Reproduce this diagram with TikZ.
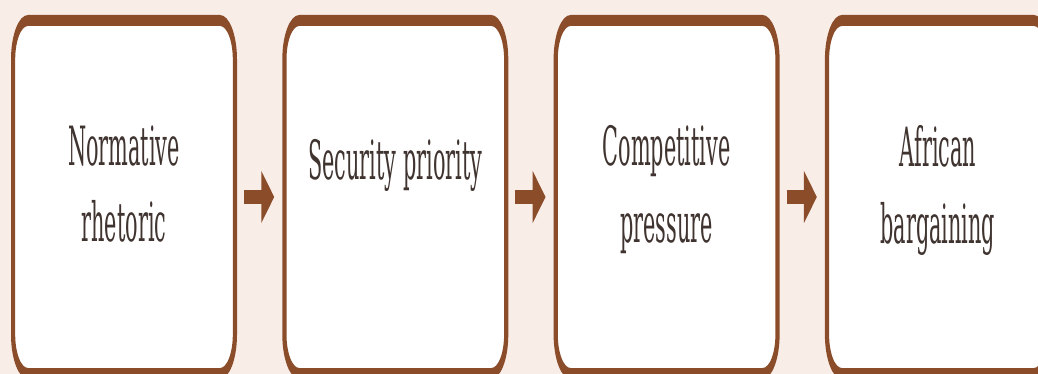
\documentclass[tikz,border=0pt]{standalone}
\usepackage{fontspec}
\setmainfont{DejaVu Serif}
\usetikzlibrary{arrows.meta}
\definecolor{bgpink}{RGB}{249,237,232}
\definecolor{rust}{RGB}{139,76,42}
\definecolor{ink}{RGB}{64,52,48}
\tikzset{
stage/.style={draw=rust,line width=4.2pt,fill=white,rounded corners=15pt,minimum width=221.8pt,minimum height=135.8pt,inner sep=0pt},
caption/.style={text=ink,font=\fontsize{20.8}{29.4}\selectfont,align=center,anchor=north,inner sep=0pt,execute at begin node=\strut},
push/.style={draw=rust,line width=5.4pt,-{Triangle[length=13pt,width=19.2pt]},shorten <=7pt,shorten >=8pt}
}
\begin{document}
\begin{tikzpicture}
\fill[bgpink](0,0)rectangle(1038pt,374pt);
\useasboundingbox(0,0)rectangle(1038pt,374pt);
\clip(0,0)rectangle(1038pt,374pt);
\begin{scope}[transform canvas={shift={(0,177pt)},yscale=2.6}]
\node[stage](s1)at(124pt,0){};
\node[stage](s2)at(395.3pt,0){};
\node[stage](s3)at(666.6pt,0){};
\node[stage](s4)at(937.9pt,0){};
% captions hang from the same first baseline
\node[caption](t1)at([yshift=27.6pt]s1.center){Normative\\rhetoric};
\node[caption](t2)at([yshift=27.6pt]s2.center){Security priority};
\node[caption](t3)at([yshift=27.6pt]s3.center){Competitive\\pressure};
\node[caption](t4)at([yshift=27.6pt]s4.center){African\\bargaining};
\draw[push](s1)--(s2);
\draw[push](s2)--(s3);
\draw[push](s3)--(s4);
\end{scope}
\end{tikzpicture}
\end{document}
